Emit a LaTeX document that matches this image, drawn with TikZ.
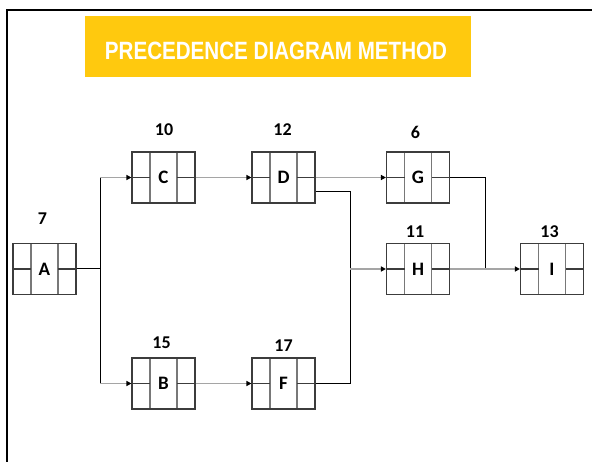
\documentclass[tikz,border=0pt]{standalone}
\usepackage{fontspec}
\setmainfont{Carlito}
\newfontfamily\titlefont[FakeStretch=0.824]{Liberation Sans}
\usetikzlibrary{arrows.meta,calc}
\definecolor{titleyellow}{RGB}{255,201,14}
\definecolor{boxline}{RGB}{60,60,60}
\definecolor{divline}{RGB}{120,120,120}
\definecolor{conngray}{RGB}{165,165,165}
\begin{document}
\begin{tikzpicture}[x=1pt,y=-1pt,
  pbox/.style={draw=boxline, line width=1.1pt, minimum width=63pt, minimum height=51pt,
    inner sep=0pt, font=\bfseries\fontsize{19}{21}\selectfont,
    path picture={
      \draw[divline, line width=1.1pt]
        ([xshift=18pt]path picture bounding box.north west) -- ([xshift=18pt]path picture bounding box.south west)
        ([xshift=-18pt]path picture bounding box.north east) -- ([xshift=-18pt]path picture bounding box.south east);
      \draw[boxline, line width=1.1pt]
        (path picture bounding box.west) -- ([xshift=18pt]path picture bounding box.west)
        (path picture bounding box.east) -- ([xshift=-18pt]path picture bounding box.east);
    }},
  dur/.style={anchor=base, inner sep=0pt, font=\bfseries\fontsize{18}{20}\selectfont},
  elbow/.style={draw=black, line width=1pt},
  conn/.style={draw=conngray, line width=1.6pt, -{Triangle[length=5pt,width=5pt,fill=black,color=black]}},
  titlebox/.style={fill=titleyellow, minimum width=386pt, minimum height=61pt, inner sep=0pt},
  titletext/.style={anchor=base, inner sep=0pt, text=white, font=\titlefont\bfseries\fontsize{25}{27}\selectfont}
]
\useasboundingbox (0,0) rectangle (592,462);
\begin{scope}
\clip (0,0) rectangle (592,462);
\draw[line width=1.6pt] (7,470) -- (7,10) -- (600,10);
\end{scope}

\node[titlebox] (tbox) at (278,46.5) {};
\node[titletext] (title) at (276,60) {PRECEDENCE DIAGRAM METHOD};

% activity boxes
\node[pbox] (A) at (44.5,269) {A};
\node[pbox] (C) at (163.5,177.5) {C};
\node[pbox] (D) at (283.5,177.5) {D};
\node[pbox] (G) at (418,177.5) {G};
\node[pbox] (H) at (418,269) {H};
\node[pbox] (I) at (552,269) {I};
\node[pbox] (B) at (163.5,383.5) {B};
\node[pbox] (F) at (283.5,383.5) {F};

% durations
\node[dur] (nA) at (42.5,225) {7};
\node[dur] (nC) at (164,136) {10};
\node[dur] (nD) at (282.5,136) {12};
\node[dur] (nG) at (415.5,139) {6};
\node[dur] (nH) at (415,238) {11};
\node[dur] (nI) at (549.5,238) {13};
\node[dur] (nB) at (161.5,349) {15};
\node[dur] (nF) at (283.5,352) {17};

% junctions
\coordinate (jA) at (100,269);
\coordinate (jH) at (350,269);
\coordinate (jI) at (485,269);

% connectors
\draw[elbow] (A.east) -- (jA);
\draw[elbow] (jA |- C.west) -- (jA |- B.west);
\draw[conn] (jA |- C.west) -- (C.west);
\draw[conn] (jA |- B.west) -- (B.west);
\draw[conn] (C.east) -- (D.west);
\draw[conn] (B.east) -- (F.west);
\draw[conn] (D.east) -- (G.west);
\draw[elbow] ([yshift=-14.5pt]D.east) -| (jH);
\draw[elbow] (F.east) -| (jH);
\draw[conn] (jH) -- (H.west);
\draw[elbow] (G.east) -| (jI);
\draw[conn] (H.east) -- (I.west);
\end{tikzpicture}
\end{document}
